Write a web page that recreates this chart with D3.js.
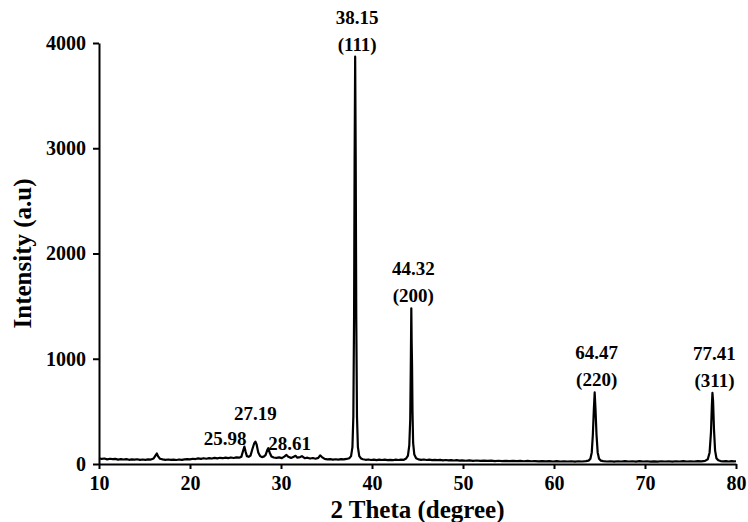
<!DOCTYPE html>
<html>
<head>
<meta charset="utf-8">
<script src="https://cdn.jsdelivr.net/npm/d3@7"></script>
<style>
  body { margin: 0; background: #fff; }
  #chart text { font-family: "Liberation Serif", "Times New Roman", serif; font-weight: bold; fill: #000; }
</style>
</head>
<body>
<div id="chart"></div>
<script>
// XRD scan: [2 theta (deg), intensity (a.u)]
const scan = [
  [10.0, 55], [10.3, 48], [10.6, 52], [10.9, 44], [11.2, 50], [11.5, 46], [11.8, 49], [12.1, 42],
  [12.4, 47], [12.7, 43], [13.0, 46], [13.3, 40], [13.6, 44], [13.9, 41], [14.2, 45], [14.5, 39],
  [14.8, 43], [15.1, 40], [15.4, 44], [15.7, 42], [16.0, 52], [16.2, 80], [16.35, 100], [16.5, 72],
  [16.7, 50], [17.0, 44], [17.3, 40], [17.6, 43], [17.9, 39], [18.2, 42], [18.5, 38], [18.8, 43],
  [19.1, 40], [19.4, 44], [19.7, 46], [20.0, 44], [20.3, 50], [20.6, 47], [20.9, 53], [21.2, 49],
  [21.5, 55], [21.8, 50], [22.1, 56], [22.4, 52], [22.7, 58], [23.0, 53], [23.3, 59], [23.6, 55],
  [23.9, 60], [24.2, 56], [24.5, 62], [24.8, 57], [25.1, 63], [25.4, 60], [25.65, 70], [25.85, 130],
  [25.98, 165], [26.1, 120], [26.25, 75], [26.45, 68], [26.65, 80], [26.85, 140], [27.05, 195],
  [27.19, 212], [27.32, 185], [27.5, 110], [27.7, 75], [27.9, 66], [28.1, 70], [28.3, 85],
  [28.5, 135], [28.61, 150], [28.75, 110], [28.95, 72], [29.2, 62], [29.5, 58], [29.8, 63],
  [30.1, 56], [30.4, 72], [30.6, 86], [30.8, 68], [31.1, 58], [31.4, 70], [31.6, 78], [31.8, 60],
  [32.1, 66], [32.3, 74], [32.6, 55], [32.9, 60], [33.2, 52], [33.5, 57], [33.8, 50], [34.1, 58],
  [34.3, 82], [34.5, 66], [34.8, 48], [35.1, 44], [35.4, 46], [35.7, 41], [36.0, 45], [36.3, 42],
  [36.6, 46], [36.9, 44], [37.2, 48], [37.5, 55], [37.7, 75], [37.85, 160], [37.95, 450],
  [38.03, 1400], [38.09, 2900], [38.15, 3870], [38.21, 2900], [38.27, 1400], [38.35, 450],
  [38.45, 160], [38.6, 75], [38.8, 52], [39.0, 45], [39.3, 40], [39.6, 43], [39.9, 38], [40.2, 42],
  [40.5, 37], [40.8, 41], [41.1, 38], [41.4, 42], [41.7, 37], [42.0, 40], [42.3, 36], [42.6, 41],
  [42.9, 38], [43.2, 42], [43.5, 40], [43.75, 52], [43.95, 80], [44.1, 180], [44.2, 420],
  [44.26, 900], [44.32, 1480], [44.36, 1150], [44.40, 950], [44.45, 500], [44.52, 200], [44.65, 90],
  [44.85, 55], [45.1, 44], [45.4, 40], [45.7, 43], [46.0, 38], [46.3, 42], [46.6, 37], [46.9, 40],
  [47.2, 36], [47.5, 39], [47.8, 35], [48.1, 38], [48.4, 34], [48.7, 37], [49.0, 33], [49.3, 36],
  [49.6, 32], [49.9, 35], [50.3, 31], [50.7, 34], [51.1, 30], [51.5, 33], [51.9, 30], [52.3, 32],
  [52.7, 29], [53.1, 32], [53.5, 28], [53.9, 31], [54.3, 28], [54.7, 30], [55.1, 27], [55.5, 30],
  [55.9, 27], [56.3, 29], [56.7, 26], [57.1, 29], [57.5, 26], [57.9, 28], [58.3, 25], [58.7, 28],
  [59.1, 25], [59.5, 27], [59.9, 24], [60.3, 27], [60.7, 24], [61.1, 26], [61.5, 24], [61.9, 26],
  [62.3, 23], [62.7, 26], [63.1, 24], [63.5, 27], [63.8, 32], [64.0, 50], [64.15, 110], [64.27, 280],
  [64.38, 520], [64.47, 680], [64.56, 520], [64.67, 280], [64.8, 110], [64.95, 50], [65.15, 32],
  [65.4, 27], [65.8, 24], [66.2, 26], [66.6, 23], [67.0, 26], [67.4, 24], [67.8, 27], [68.2, 24],
  [68.6, 26], [69.0, 23], [69.4, 27], [69.8, 24], [70.2, 26], [70.6, 23], [71.0, 25], [71.4, 23],
  [71.8, 26], [72.2, 24], [72.6, 26], [73.0, 23], [73.4, 26], [73.8, 24], [74.2, 27], [74.6, 24],
  [75.0, 26], [75.4, 24], [75.8, 27], [76.2, 25], [76.6, 30], [76.9, 45], [77.1, 110], [77.25, 300],
  [77.35, 560], [77.41, 675], [77.48, 600], [77.58, 330], [77.7, 130], [77.85, 55], [78.05, 35],
  [78.3, 28], [78.6, 25], [78.9, 28], [79.2, 24], [79.5, 27], [79.8, 25], [80.0, 26]
];

// main reflections with their miller indices
const mainPeaks = [38.15, 44.32, 64.47, 77.41];
const mainHeights = [3870, 1480, 680, 675];
const mainHkl = ["(111)", "(200)", "(220)", "(311)"];

// small peaks labelled without indices
const minorPeaks = [25.98, 27.19, 28.61];
const minorHeights = [165, 212, 150];

const xTicks = [10, 20, 30, 40, 50, 60, 70, 80];
const yTicks = [0, 1000, 2000, 3000, 4000];

const width = 748;
const height = 522;
const margin = { top: 43, right: 12, bottom: 58, left: 99 };

const svg = d3.select("#chart")
    .append("svg")
    .attr("width", width)
    .attr("height", height);

const x = d3.scaleLinear()
    .domain([10, 80])
    .range([margin.left, width - margin.right]);

const y = d3.scaleLinear()
    .domain([0, 4000])
    .range([height - margin.bottom, margin.top]);

// axes
const xAxis = svg.append("g")
    .attr("transform", `translate(0,${y(0)})`)
    .call(d3.axisBottom(x).tickValues(xTicks).tickSize(5).tickSizeOuter(0).tickPadding(7));

const yAxis = svg.append("g")
    .attr("transform", `translate(${x(10)},0)`)
    .call(d3.axisLeft(y).tickValues(yTicks).tickFormat(d3.format("d")).tickSize(6).tickSizeOuter(0).tickPadding(7));

[xAxis, yAxis].forEach(ax => {
    ax.select(".domain").attr("stroke", "#000").attr("stroke-width", 2);
    ax.selectAll(".tick line").attr("stroke", "#000").attr("stroke-width", 2);
    ax.selectAll(".tick text").style("font-size", "20px");
});

// the scan
const line = d3.line()
    .x(d => x(d[0]))
    .y(d => y(d[1]));

svg.append("path")
    .datum(scan)
    .attr("fill", "none")
    .attr("stroke", "#000")
    .attr("stroke-width", 2.2)
    .attr("stroke-linejoin", "round")
    .attr("d", line);

// labels on the main peaks: position above, miller index just over the tip
mainPeaks.forEach((p, i) => {
    const top = y(mainHeights[i]);
    svg.append("text")
        .attr("x", x(p) + 2)
        .attr("y", top - 6)
        .attr("text-anchor", "middle")
        .style("font-size", "19px")
        .text(mainHkl[i]);
    svg.append("text")
        .attr("x", x(p) + 2)
        .attr("y", top - 33)
        .attr("text-anchor", "middle")
        .style("font-size", "19px")
        .text(p.toFixed(2));
});

// minor peaks: left one ends at the peak, middle one above, right one starts at the peak
const minorAnchor = ["end", "middle", "start"];
const minorDx = [2, 0, 0];
const minorDy = [-2, -22, 2];
minorPeaks.forEach((p, i) => {
    svg.append("text")
        .attr("x", x(p) + minorDx[i])
        .attr("y", y(minorHeights[i]) + minorDy[i])
        .attr("text-anchor", minorAnchor[i])
        .style("font-size", "19px")
        .text(p.toFixed(2));
});

// axis titles
svg.append("text")
    .attr("x", (x(10) + x(80)) / 2)
    .attr("y", height - 4)
    .attr("text-anchor", "middle")
    .style("font-size", "25px")
    .text("2 Theta (degree)");

svg.append("text")
    .attr("transform", `translate(31,${(y(0) + y(4000)) / 2}) rotate(-90)`)
    .attr("text-anchor", "middle")
    .style("font-size", "25px")
    .text("Intensity (a.u)");
</script>
</body>
</html>
